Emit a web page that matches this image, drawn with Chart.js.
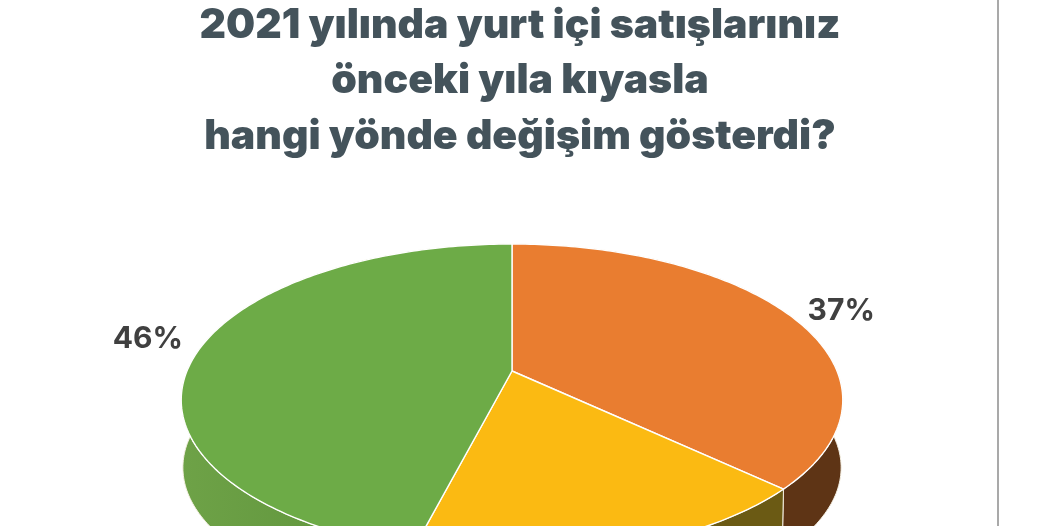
<!DOCTYPE html>
<html>
<head>
<meta charset="utf-8">
<style>
    html, body { margin: 0; padding: 0; background: #fff; }
    #wrap { width: 1040px; height: 526px; }
</style>
<script src="https://cdn.jsdelivr.net/npm/chart.js@4"></script>
</head>
<body>
<div id="wrap"><canvas id="pie3d"></canvas></div>
<script>
const titleLines = ['2021 yılında yurt içi satışlarınız', 'önceki yıla kıyasla', 'hangi yönde değişim gösterdi?'];
const categories = ['A', 'B', 'C'];
const shares = [37, 17, 46];

const topColors = ['#E97D30', '#FBBA12', '#6DAB47'];
const wallColors = [['#5E3415', '#5E3415'], ['#6B5A14', '#6B5A14'], ['#6EA247', '#558B35']];

// fake perspective: the flat pie angles are pushed through this projection
const apex = { x: 512, y: 371 };
const tilt = -0.186;
const spreadX = 325, spreadY = 150.6;
const wallDrop = 69, wallShrinkX = 0.995, wallShrinkY = 0.95;

function project(angle, r, low) {
    const u = Math.cos(angle) * r, v = Math.sin(angle) * r;
    const d = 1 + tilt * v;
    return {
        x: apex.x + spreadX * (low ? wallShrinkX : 1) * u / d,
        y: apex.y + (low ? wallDrop : 0) + spreadY * (low ? wallShrinkY : 1) * v / d
    };
}

function rim(arc, low) {
    const pts = [];
    const steps = Math.ceil((arc.endAngle - arc.startAngle) * 60);
    for (let i = 0; i <= steps; i++) {
        pts.push(project(arc.startAngle + (arc.endAngle - arc.startAngle) * i / steps, 1, low));
    }
    return pts;
}

const pie3d = {
    id: 'pie3d',
    beforeDatasetsDraw(chart) {
        const ctx = chart.ctx;
        const arcs = chart.getDatasetMeta(0).data;
        ctx.save();
        ctx.lineJoin = 'round';

        // side walls first, the top covers whatever is behind
        arcs.forEach((arc, i) => {
            const up = rim(arc, false), down = rim(arc, true).reverse();
            const grad = ctx.createLinearGradient(181, 0, 500, 0);
            grad.addColorStop(0, wallColors[i][0]);
            grad.addColorStop(1, wallColors[i][1]);
            ctx.beginPath();
            up.concat(down).forEach((p, k) => k ? ctx.lineTo(p.x, p.y) : ctx.moveTo(p.x, p.y));
            ctx.closePath();
            ctx.fillStyle = grad;
            ctx.fill();
            ctx.strokeStyle = '#F4EFE2';
            ctx.lineWidth = 1;
            ctx.stroke();
        });

        arcs.forEach((arc, i) => {
            ctx.beginPath();
            ctx.moveTo(apex.x, apex.y);
            rim(arc, false).forEach(p => ctx.lineTo(p.x, p.y));
            ctx.closePath();
            ctx.fillStyle = arc.options.backgroundColor;
            ctx.fill();
            ctx.strokeStyle = '#FFFFFF';
            ctx.lineWidth = 1.4;
            ctx.stroke();
        });
        ctx.restore();
        return false;
    },
    afterDraw(chart) {
        const ctx = chart.ctx;
        const arcs = chart.getDatasetMeta(0).data;
        ctx.save();

        // page edge line on the right
        ctx.strokeStyle = '#A9A9A9';
        ctx.lineWidth = 2;
        ctx.beginPath();
        ctx.moveTo(998, 0);
        ctx.lineTo(998, 526);
        ctx.stroke();

        const nudge = [[8, 4], [0, 0], [3, -11]];
        ctx.font = '700 30px Inter';
        ctx.fillStyle = '#404040';
        ctx.textAlign = 'center';
        ctx.textBaseline = 'middle';
        arcs.forEach((arc, i) => {
            const mid = (arc.startAngle + arc.endAngle) / 2;
            const p = project(mid, 1.17, false);
            if (p.y < 526) ctx.fillText(shares[i] + '%', p.x + nudge[i][0], p.y + nudge[i][1]);
        });
        ctx.restore();
    }
};

new Chart(document.querySelector('#pie3d'), {
    type: 'pie',
    data: {
        labels: categories,
        datasets: [{
            data: shares,
            backgroundColor: topColors
        }]
    },
    options: {
        responsive: true,
        maintainAspectRatio: false,
        animation: false,
        plugins: {
            legend: { display: false },
            tooltip: { enabled: false },
            title: {
                display: true,
                text: titleLines,
                color: '#44535B',
                font: { family: 'Inter', size: 41, weight: '900', lineHeight: 1.35 },
                padding: { top: -2, bottom: 40 }
            }
        }
    },
    plugins: [pie3d]
});
</script>
</body>
</html>
